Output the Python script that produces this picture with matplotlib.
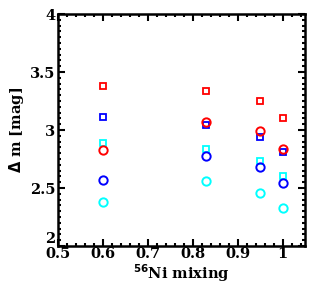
import matplotlib
matplotlib.use('Agg')
import matplotlib.pyplot as plt
from matplotlib.ticker import MultipleLocator

# 56Ni mixing values
mixing = [0.6, 0.83, 0.95, 1.0]

# squares
red_sq = [3.38, 3.34, 3.25, 3.10]
blue_sq = [3.11, 3.04, 2.94, 2.81]
cyan_sq = [2.89, 2.84, 2.73, 2.60]

# circles
red_ci = [2.83, 3.07, 2.99, 2.84]
blue_ci = [2.57, 2.78, 2.68, 2.54]
cyan_ci = [2.38, 2.56, 2.46, 2.33]

plt.rcParams['font.family'] = ['DejaVu Serif']
plt.rcParams['font.weight'] = 'bold'

fig = plt.figure(figsize=(3.11, 2.92), dpi=100)
ax = fig.add_axes([58 / 311, 46 / 292, 247 / 311, 232 / 292])

for ys, c in [(red_sq, 'red'), (blue_sq, 'blue'), (cyan_sq, 'cyan')]:
    ax.plot(mixing, ys, ls='none', marker='s', ms=5, mfc='none', mec=c, mew=1.3)
for ys, c in [(red_ci, 'red'), (blue_ci, 'blue'), (cyan_ci, 'cyan')]:
    ax.plot(mixing, ys, ls='none', marker='o', ms=6, mfc='none', mec=c, mew=1.4)

ax.set_xlim(0.5, 1.05)
ax.set_ylim(2, 4)
ax.xaxis.set_minor_locator(MultipleLocator(0.02))
ax.yaxis.set_minor_locator(MultipleLocator(0.05))
ax.set_xticks([0.5, 0.6, 0.7, 0.8, 0.9, 1.0])
ax.set_xticklabels(['0.5', '0.6', '0.7', '0.8', '0.9', '1'])
ax.set_yticks([2, 2.5, 3, 3.5, 4])
ax.set_yticklabels(['2', '2.5', '3', '3.5', '4'])
ax.tick_params(which='both', direction='in', top=True, right=True, labelsize=10.5, width=1.5)
ax.tick_params(which='major', length=5, pad=2)
ax.tick_params(axis='x', which='major', pad=1)
ax.tick_params(which='minor', length=2.5)
for s in ax.spines.values():
    s.set_linewidth(1.8)
# lift the bottom y label a touch so it does not sit on "0.5"
ax.get_yticklabels()[0].set_va('bottom')

ax.set_xlabel(r'$^{56}$Ni mixing', fontsize=10.5, fontweight='bold', labelpad=1)
ax.set_ylabel(r'$\Delta$ m [mag]', fontsize=10.5, fontweight='bold', labelpad=3)

fig.savefig('out.png', dpi=100)
